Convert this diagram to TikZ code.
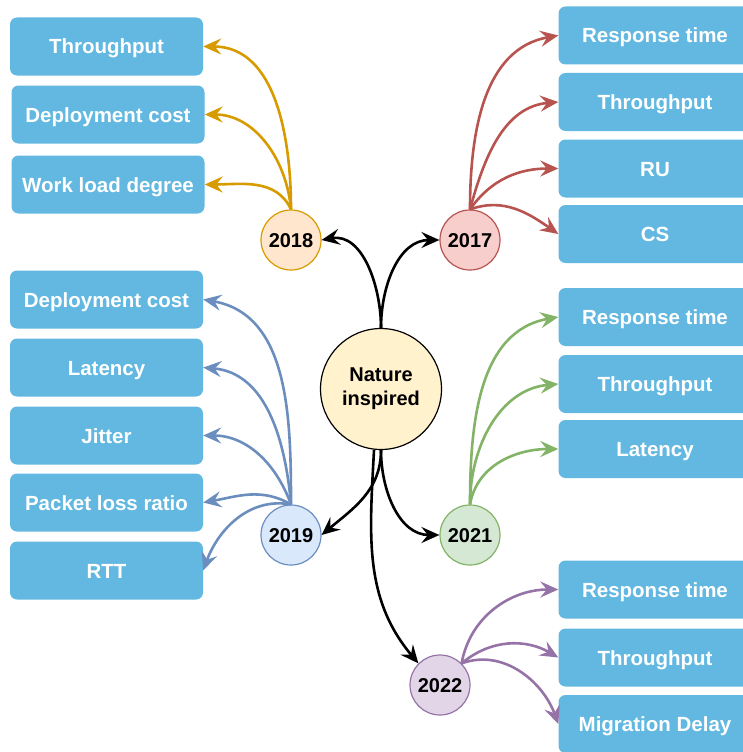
\documentclass[tikz,border=0pt]{standalone}
\usepackage{fontspec}
\setmainfont{Liberation Sans}
\usetikzlibrary{arrows.meta}
\definecolor{boxblue}{HTML}{62B8E0}
\definecolor{orfill}{HTML}{FFE6CC}\definecolor{orline}{HTML}{D79B00}
\definecolor{rdfill}{HTML}{F8CECC}\definecolor{rdline}{HTML}{B85450}
\definecolor{blfill}{HTML}{DAE8FC}\definecolor{blline}{HTML}{6C8EBF}
\definecolor{grfill}{HTML}{D5E8D4}\definecolor{grline}{HTML}{82B366}
\definecolor{pufill}{HTML}{E1D5E7}\definecolor{puline}{HTML}{9673A6}
\definecolor{ntfill}{HTML}{FFF2CC}
\tikzset{
  metric/.style={rectangle, rounded corners=7pt, fill=boxblue, draw=none, minimum width=193pt, minimum height=58pt, text=white, font=\fontsize{20.5}{24}\selectfont\bfseries, inner sep=0pt, text height=15pt, text depth=0pt},
  year/.style={circle, minimum size=60pt, inner sep=0pt, line width=1.2pt, font=\fontsize{20}{24}\selectfont\bfseries, text height=15pt, text depth=0pt},
  link/.style={line width=2.6pt, -{Stealth[length=18pt,width=16pt,inset=6.5pt]}},
}
\begin{document}
\begin{tikzpicture}[x=1pt,y=-1pt]
\useasboundingbox (0,0) rectangle (743,752);
\clip (0,0) rectangle (743,752);
% center
\node[circle, minimum size=121pt, inner sep=0pt, fill=ntfill, draw=black, line width=1.2pt, align=center, font=\fontsize{20}{24}\selectfont\bfseries] (nat) at (381,389) {Nature\\inspired};
% years
\node[year, fill=orfill, draw=orline] (y18) at (291,240) {2018};
\node[year, fill=rdfill, draw=rdline] (y17) at (470,240) {2017};
\node[year, fill=blfill, draw=blline] (y19) at (291,535) {2019};
\node[year, fill=grfill, draw=grline] (y21) at (470,535) {2021};
\node[year, fill=pufill, draw=puline] (y22) at (440,685) {2022};
% 2018 boxes
\node[metric] (a1) at (106.5,46.5) {Throughput};
\node[metric] (a2) at (108,114.5) {Deployment cost};
\node[metric] (a3) at (108,184.5) {Work load degree};
% 2019 boxes
\node[metric] (b1) at (106.5,299.5) {Deployment cost};
\node[metric] (b2) at (106.5,367.5) {Latency};
\node[metric] (b3) at (106.5,435.5) {Jitter};
\node[metric] (b4) at (106.5,502.5) {Packet loss ratio};
\node[metric] (b5) at (106.5,570.5) {RTT};
% 2017 boxes
\node[metric] (c1) at (655,35.5) {Response time};
\node[metric] (c2) at (655,102) {Throughput};
\node[metric] (c3) at (655,168.5) {RU};
\node[metric] (c4) at (655,234) {CS};
% 2021 boxes
\node[metric] (d1) at (655,317) {Response time};
\node[metric] (d2) at (655,384) {Throughput};
\node[metric] (d3) at (655,449) {Latency};
% 2022 boxes
\node[metric] (e1) at (655,589.5) {Response time};
\node[metric] (e2) at (655,657.5) {Throughput};
\node[metric] (e3) at (655,724) {Migration Delay};
% black links
\draw[link, black] (nat.north) to[out=90,in=10] (y18.east);
\draw[link, black] (nat.north) to[out=90,in=180] (y17.west);
\draw[link, black] (nat.south) to[out=-90,in=40] (y19.east);
\draw[link, black] (nat.south) to[out=-90,in=180] (y21.west);
\draw[link, black] ([xshift=-7pt]nat.south) to[out=-93,in=130] (y22.north west);
% 2018
\draw[link, orline] (y18.north) to[out=90,in=0] (a1.east);
\draw[link, orline] (y18.north) to[out=95,in=0] (a2.east);
\draw[link, orline] (y18.north) to[out=115,in=0] (a3.east);
% 2017
\draw[link, rdline] (y17.north) to[out=90,in=190] (c1.west);
\draw[link, rdline] (y17.north) to[out=75,in=185] (c2.west);
\draw[link, rdline] (y17.north) to[out=55,in=180] (c3.west);
\draw[link, rdline] (y17.north) to[out=20,in=145] (c4.west);
% 2019
\draw[link, blline] (y19.north) to[out=90,in=-10] (b1.east);
\draw[link, blline] (y19.north) to[out=95,in=-5] (b2.east);
\draw[link, blline] (y19.north) to[out=110,in=0] (b3.east);
\draw[link, blline] (y19.north) to[out=150,in=10] (b4.east);
\draw[link, blline] (y19.north) to[out=170,in=70] (b5.east);
% 2021
\draw[link, grline] (y21.north) to[out=90,in=190] (d1.west);
\draw[link, grline] (y21.north) to[out=90,in=185] (d2.west);
\draw[link, grline] (y21.north) to[out=80,in=180] (d3.west);
% 2022
\draw[link, puline] (y22.north east) to[out=80,in=180] (e1.west);
\draw[link, puline] (y22.north east) to[out=40,in=150] (e2.west);
\draw[link, puline] (y22.north east) to[out=20,in=110] (e3.west);
\end{tikzpicture}
\end{document}
